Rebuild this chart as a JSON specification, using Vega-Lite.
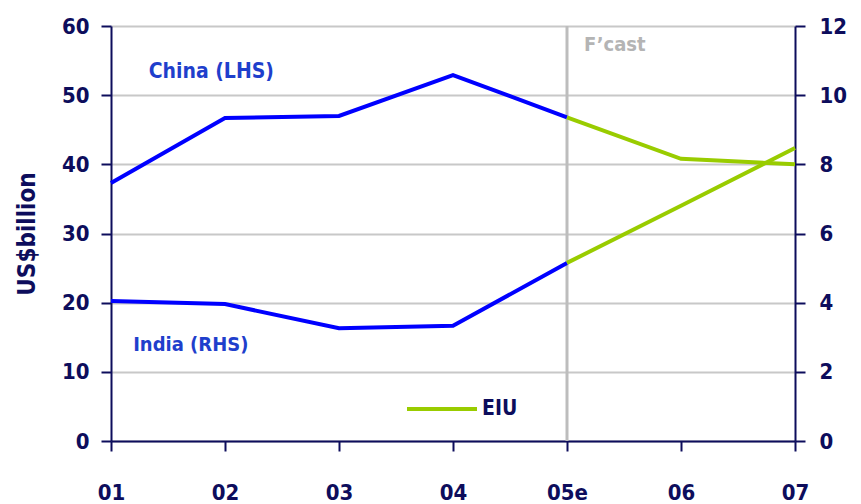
{
  "$schema": "https://vega.github.io/schema/vega-lite/v6.json",
  "width": 684,
  "height": 415,
  "autosize": {"type": "none"},
  "padding": {"left": 111, "top": 26, "right": 66, "bottom": 63},
  "background": "white",
  "config": {
    "view": {"stroke": null},
    "font": "'DejaVu Sans Condensed', 'Liberation Sans', sans-serif",
    "axis": {
      "labelFont": "'DejaVu Sans Condensed', 'Liberation Sans', sans-serif",
      "labelFontWeight": "bold",
      "labelFontSize": 22,
      "labelColor": "#0D0D5C",
      "domainColor": "#0D0D5C",
      "domainWidth": 2,
      "tickColor": "#0D0D5C",
      "tickWidth": 2,
      "tickSize": 10,
      "titleFont": "'DejaVu Sans Condensed', 'Liberation Sans', sans-serif",
      "titleFontWeight": "bold",
      "titleFontSize": 24,
      "titleColor": "#0D0D5C"
    }
  },
  "datasets": {
    "series": [
      {"idx": 0, "country": "China", "seg": "Actual", "value": 37.3},
      {"idx": 1, "country": "China", "seg": "Actual", "value": 46.7},
      {"idx": 2, "country": "China", "seg": "Actual", "value": 47.0},
      {"idx": 3, "country": "China", "seg": "Actual", "value": 52.9},
      {"idx": 4, "country": "China", "seg": "Actual", "value": 46.8},
      {"idx": 4, "country": "China", "seg": "EIU", "value": 46.8},
      {"idx": 5, "country": "China", "seg": "EIU", "value": 40.8},
      {"idx": 6, "country": "China", "seg": "EIU", "value": 40.0},
      {"idx": 0, "country": "India", "seg": "Actual", "value": 4.05},
      {"idx": 1, "country": "India", "seg": "Actual", "value": 3.96},
      {"idx": 2, "country": "India", "seg": "Actual", "value": 3.26},
      {"idx": 3, "country": "India", "seg": "Actual", "value": 3.33},
      {"idx": 4, "country": "India", "seg": "Actual", "value": 5.15},
      {"idx": 4, "country": "India", "seg": "EIU", "value": 5.15},
      {"idx": 5, "country": "India", "seg": "EIU", "value": 6.8},
      {"idx": 6, "country": "India", "seg": "EIU", "value": 8.47}
    ]
  },
  "layer": [
    {
      "layer": [
        {
          "data": {"values": [{"idx": 4}]},
          "mark": {"type": "rule", "color": "#BDBDBD", "strokeWidth": 3},
          "encoding": {"x": {"field": "idx", "type": "quantitative"}}
        },
        {
          "data": {"name": "series"},
          "transform": [{"filter": "datum.country === 'China'"}],
          "mark": {"type": "line", "strokeWidth": 4},
          "encoding": {
            "x": {
              "field": "idx", "type": "quantitative",
              "scale": {"domain": [0, 6], "nice": false, "zero": false},
              "axis": {
                "title": null,
                "values": [0, 1, 2, 3, 4, 5, 6],
                "labelExpr": "['01','02','03','04','05e','06','07'][datum.value]",
                "grid": false,
                "labelPadding": 41,
                "labelBaseline": "middle",
                "labelFlush": false
              }
            },
            "y": {
              "field": "value", "type": "quantitative",
              "scale": {"domain": [0, 60], "nice": false},
              "axis": {
                "orient": "left",
                "title": "US$billion",
                "values": [0, 10, 20, 30, 40, 50, 60],
                "grid": true,
                "gridColor": "#C8C8C8",
                "gridWidth": 2,
                "labelPadding": 12,
                "titlePadding": 22
              }
            },
            "color": {
              "field": "seg", "type": "nominal",
              "scale": {"domain": ["Actual", "EIU"], "range": ["#0000FF", "#99CC00"]},
              "legend": {
                "values": ["EIU"],
                "title": null,
                "orient": "none",
                "legendX": 294,
                "legendY": 346,
                "symbolType": "stroke",
                "symbolSize": 4900,
                "symbolStrokeWidth": 4,
                "labelFont": "'DejaVu Sans Condensed', 'Liberation Sans', sans-serif",
                "labelFontWeight": "bold",
                "labelFontSize": 21,
                "labelColor": "#0D0D5C",
                "labelOffset": 3
              }
            },
            "detail": {"field": "seg"}
          }
        },
        {
          "data": {"values": [{"idx": 0.88, "value": 53.4, "label": "China (LHS)"}]},
          "mark": {"type": "text", "font": "'DejaVu Sans Condensed', 'Liberation Sans', sans-serif", "fontWeight": "bold", "fontSize": 21, "color": "#1F3FCC"},
          "encoding": {
            "x": {"field": "idx", "type": "quantitative"},
            "y": {"field": "value", "type": "quantitative"},
            "text": {"field": "label"}
          }
        },
        {
          "data": {"values": [{"idx": 4, "value": 57.2, "label": "F\u2019cast"}]},
          "mark": {"type": "text", "font": "'DejaVu Sans Condensed', 'Liberation Sans', sans-serif", "fontWeight": "bold", "fontSize": 20, "color": "#B4B4B4", "align": "left", "dx": 17},
          "encoding": {
            "x": {"field": "idx", "type": "quantitative"},
            "y": {"field": "value", "type": "quantitative"},
            "text": {"field": "label"}
          }
        }
      ]
    },
    {
      "layer": [
        {
          "data": {"name": "series"},
          "transform": [{"filter": "datum.country === 'India'"}],
          "mark": {"type": "line", "strokeWidth": 4},
          "encoding": {
            "x": {"field": "idx", "type": "quantitative"},
            "y": {
              "field": "value", "type": "quantitative",
              "scale": {"domain": [0, 12], "nice": false},
              "axis": {
                "orient": "right",
                "title": null,
                "values": [0, 2, 4, 6, 8, 10, 12],
                "grid": false,
                "labelPadding": 14
              }
            },
            "color": {"field": "seg", "type": "nominal"},
            "detail": {"field": "seg"}
          }
        },
        {
          "data": {"values": [{"idx": 0.7, "value": 2.78, "label": "India (RHS)"}]},
          "mark": {"type": "text", "font": "'DejaVu Sans Condensed', 'Liberation Sans', sans-serif", "fontWeight": "bold", "fontSize": 20, "color": "#1F3FCC"},
          "encoding": {
            "x": {"field": "idx", "type": "quantitative"},
            "y": {"field": "value", "type": "quantitative"},
            "text": {"field": "label"}
          }
        }
      ]
    }
  ],
  "resolve": {"scale": {"y": "independent"}}
}
